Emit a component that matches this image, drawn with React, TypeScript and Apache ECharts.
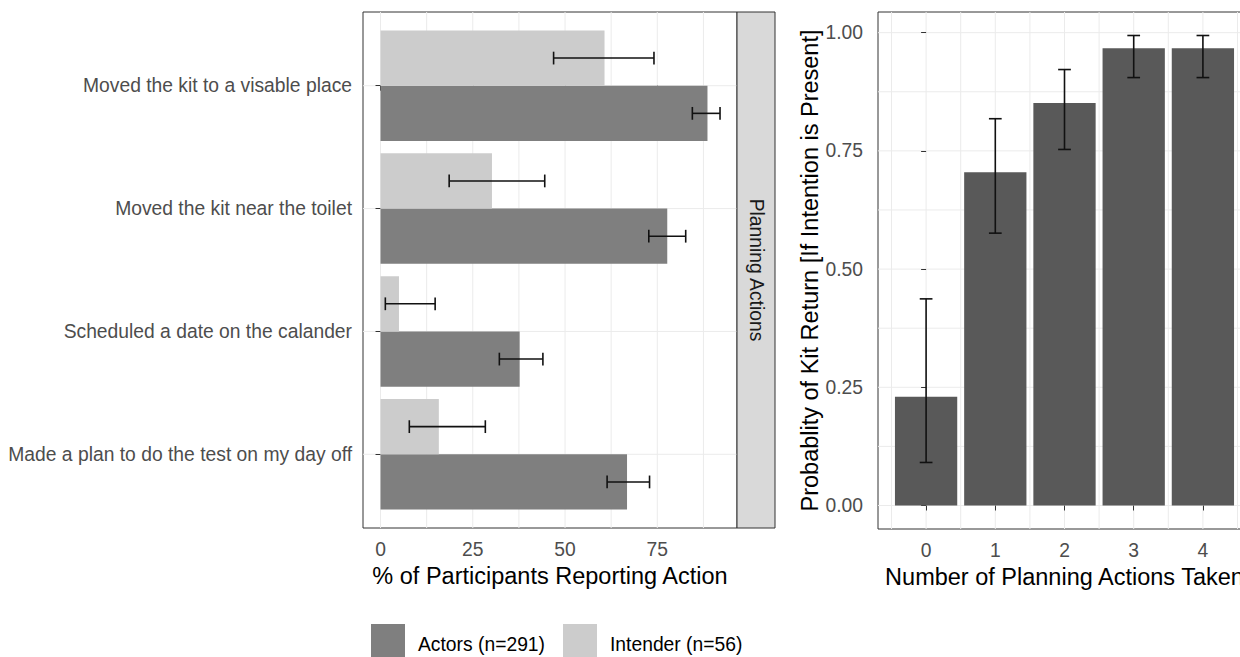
import React, { useEffect, useRef } from "react";
import * as echarts from "echarts";

// ---------- Left panel data ----------
const actions = [
  "Moved the kit to a visable place",
  "Moved the kit near the toilet",
  "Scheduled a date on the calander",
  "Made a plan to do the test on my day off",
];
const actorsPct = [88.6, 77.7, 37.7, 66.8];
const actorsLow = [84.5, 72.7, 32.2, 61.4];
const actorsHigh = [92.0, 82.7, 44.0, 72.9];
const intenderPct = [60.7, 30.2, 5.0, 15.8];
const intenderLow = [46.9, 18.6, 1.3, 7.8];
const intenderHigh = [74.1, 44.5, 14.8, 28.4];
const pctTicks = [0, 25, 50, 75];
const pctMinor = [12.5, 37.5, 62.5, 87.5];
const actionIdx = [0, 1, 2, 3];

// ---------- Right panel data ----------
const actionCounts = [0, 1, 2, 3, 4];
const returnProb = [0.23, 0.705, 0.851, 0.967, 0.967];
const returnLow = [0.091, 0.576, 0.753, 0.905, 0.905];
const returnHigh = [0.437, 0.818, 0.922, 0.994, 0.994];
const countMinor = [-0.5, 0.5, 1.5, 2.5, 3.5, 4.5];
const probTicks = [0, 0.25, 0.5, 0.75, 1];
const probMinor = [0.125, 0.375, 0.625, 0.875];

const ACTORS_NAME = "Actors (n=291)";
const INTENDER_NAME = "Intender (n=56)";
const ACTORS_COLOR = "#7f7f7f";
const INTENDER_COLOR = "#cccccc";
const RIGHT_BAR = "#595959";
const GRID_COLOR = "#ebebeb";
const FONT = "'Liberation Sans', Arial, sans-serif";

function vLines(values: number[], xi: number, yi: number, yRef: number) {
  return {
    type: "custom",
    xAxisIndex: xi,
    yAxisIndex: yi,
    silent: true,
    z: 0,
    data: values.map((v) => [v, yRef]),
    renderItem: (params: any, api: any) => {
      const cs = params.coordSys;
      const x = api.coord([api.value(0), api.value(1)])[0];
      return {
        type: "line",
        shape: { x1: x, y1: cs.y, x2: x, y2: cs.y + cs.height },
        style: { stroke: GRID_COLOR, lineWidth: 1 },
      };
    },
  };
}

function hLines(values: number[], xi: number, yi: number, xRef: number) {
  return {
    type: "custom",
    xAxisIndex: xi,
    yAxisIndex: yi,
    silent: true,
    z: 0,
    data: values.map((v) => [xRef, v]),
    renderItem: (params: any, api: any) => {
      const cs = params.coordSys;
      const y = api.coord([api.value(0), api.value(1)])[1];
      return {
        type: "line",
        shape: { x1: cs.x, y1: y, x2: cs.x + cs.width, y2: y },
        style: { stroke: GRID_COLOR, lineWidth: 1 },
      };
    },
  };
}

function hBars(name: string, values: number[], color: string, start: number) {
  return {
    type: "custom",
    name,
    xAxisIndex: 0,
    yAxisIndex: 0,
    z: 2,
    itemStyle: { color },
    encode: { x: 0, y: 1 },
    data: values.map((v, i) => [v, actionIdx[i]]),
    renderItem: (_p: any, api: any) => {
      const v = api.value(0);
      const i = api.value(1);
      const a = api.coord([0, i + start]);
      const b = api.coord([v, i + start + 0.45]);
      return {
        type: "rect",
        shape: {
          x: Math.min(a[0], b[0]),
          y: Math.min(a[1], b[1]),
          width: Math.abs(b[0] - a[0]),
          height: Math.abs(b[1] - a[1]),
        },
        style: { fill: color },
      };
    },
  };
}

function hErr(low: number[], high: number[], shift: number) {
  return {
    type: "custom",
    xAxisIndex: 0,
    yAxisIndex: 0,
    silent: true,
    z: 3,
    encode: { x: [0, 1], y: 2 },
    data: low.map((l, i) => [l, high[i], actionIdx[i]]),
    renderItem: (_p: any, api: any) => {
      const lo = api.value(0);
      const hi = api.value(1);
      const yc = api.value(2) + shift;
      const a = api.coord([lo, yc]);
      const b = api.coord([hi, yc]);
      const c1 = api.coord([lo, yc - 0.052]);
      const c2 = api.coord([lo, yc + 0.052]);
      const st = { stroke: "#111111", lineWidth: 1.6 };
      return {
        type: "group",
        children: [
          { type: "line", shape: { x1: a[0], y1: a[1], x2: b[0], y2: b[1] }, style: st },
          { type: "line", shape: { x1: a[0], y1: c1[1], x2: a[0], y2: c2[1] }, style: st },
          { type: "line", shape: { x1: b[0], y1: c1[1], x2: b[0], y2: c2[1] }, style: st },
        ],
      };
    },
  };
}

export default function App() {
  const ref = useRef<HTMLDivElement>(null);

  useEffect(() => {
    if (!ref.current) return;
    const chart = echarts.init(ref.current, undefined, { renderer: "svg" });

    const tickText = { fontSize: 19.3, color: "#4d4d4d", fontFamily: FONT };
    const titleText = { fontSize: 23.5, color: "#000000", fontFamily: FONT };

    const option: any = {
      animation: false,
      backgroundColor: "#ffffff",
      textStyle: { fontFamily: FONT },
      grid: [
        {
          left: 363,
          top: 12,
          width: 374,
          height: 516,
          show: true,
          borderColor: "#333333",
          borderWidth: 1,
          backgroundColor: "transparent",
          containLabel: false,
          outerBoundsMode: "none",
        },
        {
          left: 878,
          top: 12,
          width: 373,
          height: 517,
          show: true,
          borderColor: "#333333",
          borderWidth: 1,
          backgroundColor: "transparent",
          containLabel: false,
          outerBoundsMode: "none",
        },
      ],
      xAxis: [
        {
          type: "value",
          gridIndex: 0,
          min: -4.75,
          max: 96.6,
          axisLine: { show: false },
          splitLine: { show: false },
          axisTick: { show: true, length: 5, customValues: pctTicks, lineStyle: { color: "#333333" } },
          axisLabel: { customValues: pctTicks, margin: 12, ...tickText },
          name: "% of Participants Reporting Action",
          nameLocation: "middle",
          nameGap: 35,
          nameTextStyle: titleText,
        },
        {
          type: "value",
          gridIndex: 1,
          min: -0.695,
          max: 4.695,
          axisLine: { show: false },
          splitLine: { show: false },
          axisTick: { show: true, length: 5, customValues: actionCounts, lineStyle: { color: "#333333" } },
          axisLabel: { customValues: actionCounts, margin: 12, ...tickText },
          name: "Number of Planning Actions Taken",
          nameLocation: "middle",
          nameGap: 35,
          nameTextStyle: titleText,
        },
      ],
      yAxis: [
        {
          type: "value",
          gridIndex: 0,
          min: -0.6,
          max: 3.6,
          inverse: true,
          axisLine: { show: false },
          splitLine: { show: false },
          axisTick: { show: true, length: 5, customValues: actionIdx, lineStyle: { color: "#333333" } },
          axisLabel: {
            customValues: actionIdx,
            margin: 11,
            formatter: (v: number) => actions[Math.round(v)] ?? "",
            ...tickText,
          },
        },
        {
          type: "value",
          gridIndex: 1,
          min: -0.0497,
          max: 1.0437,
          axisLine: { show: false },
          splitLine: { show: false },
          axisTick: { show: true, length: 5, customValues: probTicks, lineStyle: { color: "#333333" } },
          axisLabel: {
            customValues: probTicks,
            margin: 15,
            formatter: (v: number) => v.toFixed(2),
            ...tickText,
          },
          name: "Probablity of Kit Return [If Intention is Present]",
          nameLocation: "middle",
          nameGap: 54,
          nameTextStyle: titleText,
        },
      ],
      legend: {
        left: 371,
        top: 624,
        padding: 0,
        orient: "horizontal",
        icon: "rect",
        itemWidth: 34,
        itemHeight: 40,
        itemGap: 18,
        data: [ACTORS_NAME, INTENDER_NAME],
        textStyle: { fontSize: 19.3, color: "#000000", fontFamily: FONT, padding: [0, 0, 0, 8] },
      },
      graphic: [
        {
          type: "rect",
          shape: { x: 737, y: 12, width: 38, height: 516 },
          style: { fill: "#d9d9d9", stroke: "#333333", lineWidth: 1 },
          z: 10,
        },
        {
          type: "text",
          x: 756,
          y: 270,
          rotation: -Math.PI / 2,
          z: 11,
          style: {
            text: "Planning Actions",
            fill: "#1a1a1a",
            fontSize: 19.3,
            fontFamily: FONT,
            textAlign: "center",
            textVerticalAlign: "middle",
          },
        },
      ],
      series: [
        // grid lines left panel
        vLines(pctMinor, 0, 0, 0),
        vLines(pctTicks, 0, 0, 0),
        hLines(actionIdx, 0, 0, 0),
        // grid lines right panel
        vLines(countMinor, 1, 1, 0),
        vLines(actionCounts, 1, 1, 0),
        hLines(probMinor, 1, 1, 0),
        hLines(probTicks, 1, 1, 0),
        // left bars
        hBars(ACTORS_NAME, actorsPct, ACTORS_COLOR, 0),
        hBars(INTENDER_NAME, intenderPct, INTENDER_COLOR, -0.45),
        hErr(actorsLow, actorsHigh, 0.225),
        hErr(intenderLow, intenderHigh, -0.225),
        // right bars
        {
          type: "custom",
          xAxisIndex: 1,
          yAxisIndex: 1,
          z: 2,
          silent: true,
          itemStyle: { color: RIGHT_BAR },
          encode: { x: 0, y: 1 },
          data: actionCounts.map((c, i) => [c, returnProb[i]]),
          renderItem: (_p: any, api: any) => {
            const x = api.value(0);
            const v = api.value(1);
            const a = api.coord([x - 0.45, 0]);
            const b = api.coord([x + 0.45, v]);
            return {
              type: "rect",
              shape: {
                x: Math.min(a[0], b[0]),
                y: Math.min(a[1], b[1]),
                width: Math.abs(b[0] - a[0]),
                height: Math.abs(b[1] - a[1]),
              },
              style: { fill: RIGHT_BAR },
            };
          },
        },
        {
          type: "custom",
          xAxisIndex: 1,
          yAxisIndex: 1,
          z: 3,
          silent: true,
          encode: { x: 0, y: [1, 2] },
          data: actionCounts.map((c, i) => [c, returnLow[i], returnHigh[i]]),
          renderItem: (_p: any, api: any) => {
            const x = api.value(0);
            const lo = api.coord([x, api.value(1)]);
            const hi = api.coord([x, api.value(2)]);
            const l = api.coord([x - 0.092, 0])[0];
            const r = api.coord([x + 0.092, 0])[0];
            const st = { stroke: "#111111", lineWidth: 1.6 };
            return {
              type: "group",
              children: [
                { type: "line", shape: { x1: lo[0], y1: lo[1], x2: hi[0], y2: hi[1] }, style: st },
                { type: "line", shape: { x1: l, y1: lo[1], x2: r, y2: lo[1] }, style: st },
                { type: "line", shape: { x1: l, y1: hi[1], x2: r, y2: hi[1] }, style: st },
              ],
            };
          },
        },
      ],
    };

    chart.setOption(option);
    return () => {
      chart.dispose();
    };
  }, []);

  return (
    <div
      ref={ref}
      style={{
        position: "absolute",
        left: 0,
        top: 0,
        width: 1240,
        height: 657,
        background: "#ffffff",
      }}
    />
  );
}
